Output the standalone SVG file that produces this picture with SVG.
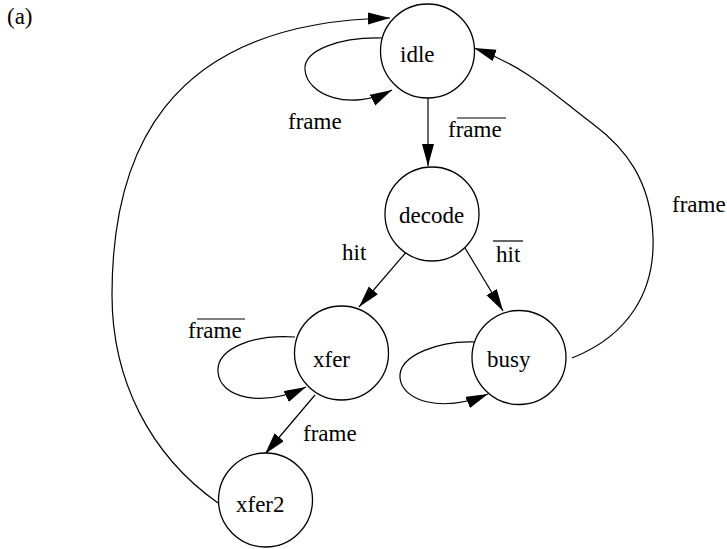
<svg xmlns="http://www.w3.org/2000/svg" width="727" height="549" viewBox="0 0 727 549">
<style>
.n{fill:#fff;stroke:#000;stroke-width:1.3}
.t{font-family:"Liberation Serif","Times New Roman",serif;font-size:23px;fill:#000}
.e{fill:none;stroke:#000;stroke-width:1.2;marker-end:url(#ah)}
.ol{stroke:#000;stroke-width:1.2}
</style>
<defs>
<marker id="ah" markerUnits="userSpaceOnUse" markerWidth="23" markerHeight="13" refX="22" refY="6" orient="auto">
<path d="M0,0 L22,6 L0,12 z" fill="#000"/>
</marker>
</defs>
<rect width="727" height="549" fill="#fff"/>
<text class="t" x="7" y="24">(a)</text>
<g id="connectors">
<path class="e" d="M382,38 C340,37 303,50 305,70 C307,95 350,112 392,90"/>
<path class="e" d="M428,98 L428,166"/>
<path class="e" d="M408,250 L359,307"/>
<path class="e" d="M465,248 L503,311"/>
<path class="e" d="M295,337 C255,334 216,348 218,372 C220,398 262,408 306,387"/>
<path class="e" d="M315,395 L265,454"/>
<path class="e" d="M477,342 C440,340 398,355 400,378 C402,400 440,414 488,394"/>
<path class="e" d="M572,358 C630,335 655,290 653,237 C651,180 625,148 593,124 C560,100 530,68 474,48"/>
<path class="e" d="M218,503 C150,455 112,380 112,295 C112,160 160,22 390,18"/>
</g>
<g id="labels">
<text class="t" x="288" y="129">frame</text>
<text class="t" x="448" y="137">frame</text>
<line class="ol" x1="457" y1="118" x2="506" y2="118"/>
<text class="t" x="342" y="260">hit</text>
<text class="t" x="496" y="262">hit</text>
<line class="ol" x1="493" y1="241" x2="523" y2="241"/>
<text class="t" x="188" y="338">frame</text>
<line class="ol" x1="197" y1="319" x2="245" y2="319"/>
<text class="t" x="303" y="441">frame</text>
<text class="t" x="672" y="212">frame</text>
</g>
<g id="idle"><circle class="n" cx="427.5" cy="51" r="47"/><text class="t" x="400" y="62">idle</text></g>
<g id="decode"><circle class="n" cx="432" cy="214" r="47"/><text class="t" x="399" y="223">decode</text></g>
<g id="xfer"><circle class="n" cx="341.5" cy="353" r="47"/><text class="t" x="313" y="367">xfer</text></g>
<g id="busy"><circle class="n" cx="519" cy="357.5" r="47"/><text class="t" x="487" y="367">busy</text></g>
<g id="xfer2"><circle class="n" cx="265.5" cy="500" r="47"/><text class="t" x="236" y="512">xfer2</text></g>
</svg>
